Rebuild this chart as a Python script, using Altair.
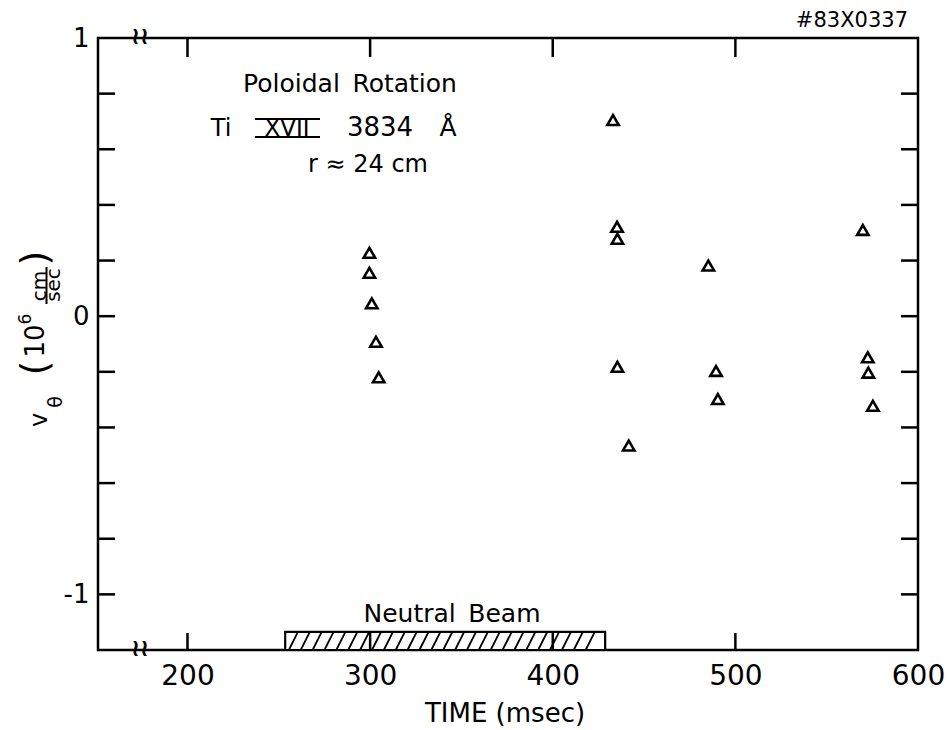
import altair as alt
import numpy as np
import pandas as pd

# ---- data ----
time_ms = [299.6, 299.6, 300.9, 303.2, 304.7,
           433.0, 435.2, 435.4, 435.4, 441.6,
           485.2, 489.4, 490.4,
           569.8, 572.5, 572.8, 575.3]
v_theta = [0.228, 0.156, 0.046, -0.092, -0.220,
           0.705, 0.321, 0.278, -0.182, -0.465,
           0.182, -0.197, -0.298,
           0.310, -0.148, -0.203, -0.322]

beam_start = 253.5
beam_end = 428.7
beam_top = -1.135

x_domain = [151, 600]
y_domain = [-1.2, 1.0]
x_label_values = [200, 300, 400, 500, 600]
x_tick_values = [200, 300, 400, 500]
y_label_values = [-1, 0, 1]
y_tick_values = [-1.0, -0.8, -0.6, -0.4, -0.2, 0.0, 0.2, 0.4, 0.6, 0.8]

FONT = "DejaVu Sans"
W, H = 820, 612

xs = alt.Scale(domain=x_domain, nice=False, zero=False)
ys = alt.Scale(domain=y_domain, nice=False, zero=False)
xaxis = alt.Axis(values=x_label_values, title=None, ticks=False, tickSize=0, domain=False,
                 grid=False, labelFontSize=28, labelPadding=12, labelFont=FONT,
                 labelColor="black", format="d", labelFlush=False, labelOverlap=False)
yaxis = alt.Axis(values=y_label_values, title=None, ticks=False, tickSize=0, domain=False,
                 grid=False, labelFontSize=26, labelPadding=9, labelFont=FONT,
                 labelColor="black", labelFlush=False, labelOverlap=False,
                 labelExpr="datum.value < 0 ? '-' + format(-datum.value, 'd') : format(datum.value, 'd')")

pts = pd.DataFrame({"time": time_ms, "v": v_theta})
points = alt.Chart(pts).mark_point(shape="triangle-up", filled=False, size=130,
                                   strokeWidth=2.6, color="black", opacity=1).encode(
    x=alt.X("time:Q", scale=xs, axis=xaxis),
    y=alt.Y("v:Q", scale=ys, axis=yaxis),
)

beam_df = pd.DataFrame({"start": [beam_start], "end": [beam_end],
                        "bottom": [y_domain[0]], "top": [beam_top]})
beam = alt.Chart(beam_df).mark_rect(fill="white", stroke="black", strokeWidth=2.2).encode(
    x=alt.X("start:Q", scale=xs, axis=xaxis), x2="end",
    y=alt.Y("bottom:Q", scale=ys, axis=yaxis), y2="top",
)

# hatching of the beam bar, derived from the bar's own extent
slant = 5.0
hx = np.arange(beam_start + 2.0, beam_end - slant, 6.5)
hatch_df = pd.DataFrame({"x0": hx, "x1": hx + slant,
                         "yb": [y_domain[0]] * len(hx), "yt": [beam_top] * len(hx)})
hatch = alt.Chart(hatch_df).mark_rule(color="black", strokeWidth=1.8).encode(
    x=alt.X("x0:Q", scale=xs, axis=xaxis), x2="x1",
    y=alt.Y("yb:Q", scale=ys, axis=yaxis), y2="yt",
)

xt = pd.DataFrame({"t": x_tick_values})
yt = pd.DataFrame({"t": y_tick_values})
tick_bottom = alt.Chart(xt).mark_rule(color="black", strokeWidth=2.5).encode(
    x=alt.X("t:Q", scale=xs, axis=xaxis), y=alt.value(H), y2=alt.value(H - 17))
tick_top = alt.Chart(xt).mark_rule(color="black", strokeWidth=2.5).encode(
    x=alt.X("t:Q", scale=xs, axis=xaxis), y=alt.value(0), y2=alt.value(19))
tick_left = alt.Chart(yt).mark_rule(color="black", strokeWidth=2.5).encode(
    y=alt.Y("t:Q", scale=ys, axis=yaxis), x=alt.value(0), x2=alt.value(17))
tick_right = alt.Chart(yt).mark_rule(color="black", strokeWidth=2.5).encode(
    y=alt.Y("t:Q", scale=ys, axis=yaxis), x=alt.value(W), x2=alt.value(W - 17))

dummy = pd.DataFrame({"k": [0]})


def txt(s, x, y, size, align="center", baseline="alphabetic", angle=0, weight="normal"):
    return alt.Chart(dummy).mark_text(text=s, fontSize=size, font=FONT, align=align,
                                      baseline=baseline, angle=angle, color="black",
                                      fontWeight=weight).encode(x=alt.value(x), y=alt.value(y))


def line(x, x2, y, y2, width=2):
    return alt.Chart(dummy).mark_rule(color="black", strokeWidth=width).encode(
        x=alt.value(x), x2=alt.value(x2), y=alt.value(y), y2=alt.value(y2))


annotations = [
    txt("Poloidal\u2002Rotation", 252, 54, 25),
    txt("Ti", 123, 98, 24),
    txt("XVII", 189, 98, 23),
    line(157, 222, 81, 81),
    line(157, 222, 99, 99),
    txt("3834", 282, 98, 26),
    txt("Å", 350, 98, 25),
    txt("r ≈ 24 cm", 270, 134, 24),
    txt("#83X0337", 810, -11, 21, align="right"),
    txt("Neutral\u2002Beam", 354, 584, 25),
    txt("TIME (msec)", 407, 684, 26),
    txt("≀≀", 42, -1, 24, baseline="middle", weight="bold"),
    txt("≀≀", 42, 611, 24, baseline="middle", weight="bold"),
    # rotated y-axis title: v_theta (10^6 cm/sec)
    txt("v", -58, 382, 24, baseline="middle", angle=270),
    txt("θ", -42, 364, 19, baseline="middle", angle=270),
    txt("(", -62, 330, 38, baseline="middle", angle=270),
    txt("10", -62, 303, 26, baseline="middle", angle=270),
    txt("6", -72, 281, 17, baseline="middle", angle=270),
    txt("cm", -58, 248, 20, baseline="middle", angle=270),
    line(-51.5, -51.5, 229, 266),
    txt("sec", -44, 247, 20, baseline="middle", angle=270),
    txt(")", -62, 220, 38, baseline="middle", angle=270),
]

chart = alt.layer(
    beam, hatch, tick_bottom, tick_top, tick_left, tick_right, points, *annotations
).properties(
    width=W, height=H,
    autosize=alt.AutoSizeParams(type="none"),
    padding={"left": 98, "top": 38, "right": 32, "bottom": 80},
    background="white",
).configure_view(stroke="black", strokeWidth=2.5)

chart.save("out.html", embed_options={"renderer": "svg", "actions": False})
